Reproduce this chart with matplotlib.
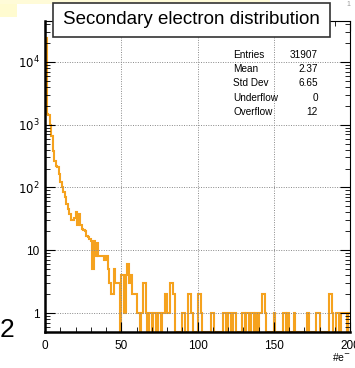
import matplotlib
matplotlib.use('Agg')
import matplotlib.pyplot as plt
import numpy as np
from matplotlib.patches import Rectangle
from matplotlib.ticker import FixedLocator, LogLocator, NullFormatter

plt.rcParams['font.family'] = ['Liberation Sans', 'DejaVu Sans']

# histogram: 200 bins of width 1 from 0 to 200 (counts per bin)
bin_edges = np.arange(0, 201, 1)
counts = [24000, 1500, 1400, 1000, 650, 380, 260, 220, 210, 165,
          120, 100, 85, 70, 55, 45, 38, 30, 30, 33,
          40, 25, 38, 25, 22, 21, 20, 17, 16, 15,
          14, 5, 14, 8, 13, 8, 8, 8, 8, 7,
          8, 5, 3, 2, 2, 5, 3, 3, 3, 0,
          4, 4, 1, 4, 6, 3, 4, 2, 2, 2,
          1, 1, 0, 1, 3, 3, 1, 0, 1, 1,
          0, 1, 1, 0, 1, 1, 0, 1, 1, 2,
          1, 1, 3, 3, 2, 0, 0, 0, 0, 0,
          1, 1, 0, 0, 2, 2, 1, 0, 0, 0,
          2, 2, 1, 0, 0, 0, 0, 0, 0, 1,
          1, 0, 0, 0, 0, 0, 0, 1, 1, 0,
          1, 1, 0, 1, 1, 0, 0, 0, 0, 1,
          1, 0, 1, 1, 0, 1, 1, 0, 1, 0,
          1, 1, 2, 2, 1, 0, 0, 0, 0, 0,
          1, 0, 0, 0, 0, 0, 1, 1, 0, 1,
          0, 0, 0, 1, 0, 0, 0, 0, 0, 0,
          0, 0, 1, 0, 0, 0, 0, 0, 1, 1,
          0, 0, 0, 0, 0, 0, 2, 2, 1, 0,
          0, 1, 1, 0, 1, 1, 1, 1, 0, 1]

stat_names = ['Entries', 'Mean', 'Std Dev', 'Underflow', 'Overflow']
stat_values = ['31907', '2.37', '6.65', '0', '12']
title = 'Secondary electron distribution'

W, H = 355, 368
fig = plt.figure(figsize=(W / 100, H / 100), dpi=100)
fig.patch.set_facecolor('white')

# stray bits of the screenshot
fig.patches.append(Rectangle((0, 1 - 17 / H), 17 / W, 17 / H, transform=fig.transFigure,
                             facecolor='#fffbd0', edgecolor='none', zorder=0))
fig.patches.append(Rectangle((0, 1 - 4 / H), 270 / W, 4 / H, transform=fig.transFigure,
                             facecolor='#fffbd8', edgecolor='none', zorder=0))
fig.text(0 / W, 1 - 330 / H, '2', fontsize=19, va='center', ha='left')
fig.text(348 / W, 1 - 4 / H, '1', fontsize=5, color='#999999', va='center', ha='center')

ax = fig.add_axes([45 / W, 1 - 332 / H, 305 / W, 311 / H])
ymin, ymax = 0.5, 10 ** 4.65
vals = np.array(counts, dtype=float)
vals = np.where(vals > 0, vals, ymin)
ax.stairs(vals, bin_edges, color='#f5a21e', linewidth=1.5, baseline=None)

ax.set_yscale('log')
ax.set_xlim(0, 200)
ax.set_ylim(ymin, ymax)

ax.xaxis.set_major_locator(FixedLocator([0, 50, 100, 150, 200]))
ax.xaxis.set_minor_locator(FixedLocator(np.arange(0, 201, 10)))
ax.yaxis.set_major_locator(FixedLocator([1, 10, 100, 1000, 10000]))
ax.yaxis.set_minor_locator(LogLocator(base=10, subs=np.arange(2, 10)))
ax.yaxis.set_minor_formatter(NullFormatter())
ax.set_yticklabels(['1', '10', r'$10^{2}$', r'$10^{3}$', r'$10^{4}$'])
ax.tick_params(which='both', direction='in', top=True, right=True, labelsize=8.5)
ax.tick_params(axis='x', pad=6)
ax.tick_params(axis='y', pad=4)
ax.tick_params(which='major', length=7, width=0.8)
ax.tick_params(which='minor', length=3.5, width=0.6)

ax.grid(True, which='major', linestyle=(0, (1, 1.5)), color='#888888', linewidth=0.7)

for side in ['left', 'bottom']:
    ax.spines[side].set_linewidth(1.8)
for side in ['right', 'top']:
    ax.spines[side].set_linewidth(0.8)

# x axis title
fig.text(341 / W, 1 - 357 / H, r'#e$^{-}$', fontsize=7.5, ha='center', va='center')

# statistics box
ys = [55, 69, 83, 98, 112]
for name, val, y in zip(stat_names, stat_values, ys):
    fig.text(233 / W, 1 - y / H, name, fontsize=7.2, ha='left', va='center')
    fig.text(318 / W, 1 - y / H, val, fontsize=7.2, ha='right', va='center')

# title box
fig.patches.append(Rectangle((53 / W, 1 - 37 / H), 277 / W, 34 / H, transform=fig.transFigure,
                             facecolor='white', edgecolor='#333333', linewidth=1.2, zorder=5))
fig.text(191 / W, 1 - 20 / H, title, fontsize=13.5, ha='center', va='center', zorder=6)

fig.savefig('out.png', dpi=100)
